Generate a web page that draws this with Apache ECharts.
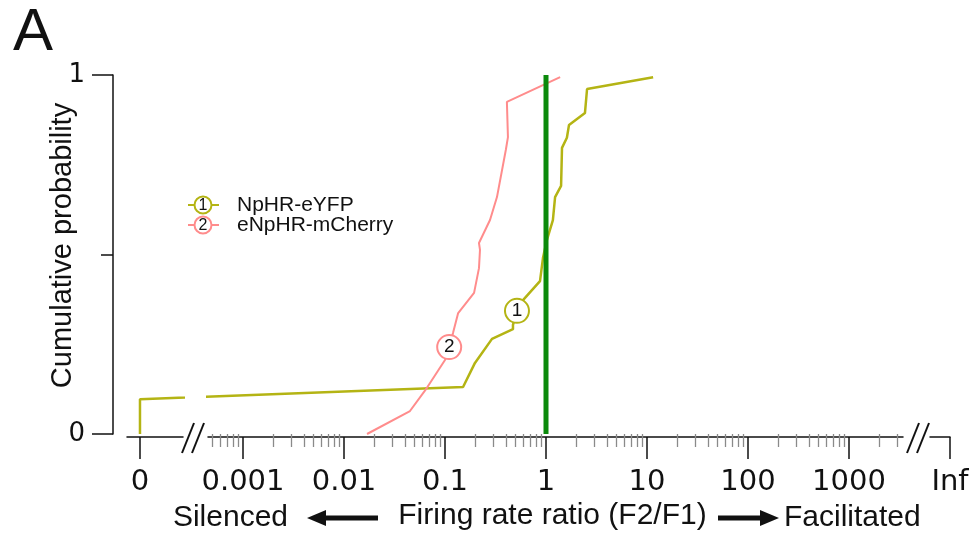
<!DOCTYPE html>
<html><head><meta charset="utf-8">
<script src="https://cdn.jsdelivr.net/npm/echarts@6/dist/echarts.min.js"></script>
<style>html,body{margin:0;padding:0;background:#fff}#chart{width:976px;height:538px}</style>
</head><body><div id="chart"></div>
<script>
// ---------------- data ----------------
const seriesNames = ['NpHR-eYFP', 'eNpHR-mCherry'];
const markerTexts = ['1', '2'];
// NpHR-eYFP: firing-rate ratio (F2/F1) and cumulative probability
const yfpRatio = [0, 0, 0.151, 0.198, 0.292, 0.471, 0.471, 0.516, 0.592, 0.872, 0.933, 1.02, 1.17, 1.23, 1.41, 1.44, 1.61, 1.69, 2.43, 2.55, 11.5];
const yfpProb  = [0, 0.097, 0.131, 0.198, 0.265, 0.292, 0.304, 0.343, 0.373, 0.426, 0.49, 0.54, 0.596, 0.66, 0.691, 0.797, 0.825, 0.861, 0.894, 0.961, 0.994];
const yfpMarkerIndex = 7;
// eNpHR-mCherry
const mchRatio = [0.0169, 0.045, 0.066, 0.1, 0.11, 0.12, 0.135, 0.194, 0.217, 0.222, 0.217, 0.279, 0.327, 0.40, 0.42, 0.41, 1.38];
const mchProb  = [0, 0.064, 0.128, 0.206, 0.242, 0.281, 0.337, 0.393, 0.462, 0.513, 0.532, 0.596, 0.66, 0.791, 0.827, 0.925, 0.994];
const mchMarkerIndex = 4;
// reference line at ratio = 1
const refRatio = 1;
const refProb = [0, 1];
// tick labels
const majorTickRatios = [0.001, 0.01, 0.1, 1, 10, 100, 1000];
const majorTickLabels = ['0.001', '0.01', '0.1', '1', '10', '100', '1000'];
const zeroLabel = '0';
const infLabel = 'Inf';
const yTickValues = [0, 1];
const yTickLabels = ['0', '1'];

// ---------------- layout / style ----------------
const YFP_COLOR = '#b4b414';
const MCH_COLOR = '#ff8c8c';
const REF_COLOR = '#0b8a0b';
const INK = '#111';
const PX1 = 546, PPD = 101;          // pixel of ratio 1, pixels per decade
const ZERO_T = -4.02, INF_T = 4;     // axis positions of the "0" and "Inf" segments
const SEGS = [[127, 183], [208, 903], [930, 950]];
const GRID_TOP = 75, GRID_H = 359;
const tAt = px => (px - PX1) / PPD;
const toT = r => r === 0 ? ZERO_T : (r === Infinity ? INF_T : Math.log10(r));

const majorT = majorTickRatios.map(Math.log10);
const minorT = [];
for (let n = -4; n <= 3; n++) for (let k = 2; k <= 9; k++) {
  const t = Math.log10(k * Math.pow(10, n));
  if (t > tAt(SEGS[1][0]) && t < tAt(SEGS[1][1])) minorT.push(t);
}

const lineStyleAxis = { color: INK, width: 1.5 };
const labelFont = { fontSize: 29, fontFamily: 'DejaVu Sans', color: INK };
const yLabelFont = { fontSize: 26, fontFamily: 'DejaVu Sans', color: INK };
const titleFont = 'Liberation Sans';

function baseX(gridIndex, seg) {
  return {
    gridIndex, type: 'value', position: 'bottom', offset: 3,
    min: tAt(seg[0]), max: tAt(seg[1]),
    axisLine: { show: true, onZero: false, lineStyle: lineStyleAxis },
    splitLine: { show: false }, minorSplitLine: { show: false },
  };
}

const xAxis = [
  Object.assign(baseX(0, SEGS[0]), {
    axisTick: { show: true, customValues: [ZERO_T], length: 22, lineStyle: lineStyleAxis },
    axisLabel: Object.assign({ show: true, customValues: [ZERO_T], margin: 31, formatter: () => zeroLabel }, labelFont)
  }),
  Object.assign(baseX(1, SEGS[1]), {
    axisTick: { show: true, customValues: majorT, length: 22, lineStyle: lineStyleAxis },
    axisLabel: Object.assign({
      show: true, customValues: majorT, margin: 31,
      formatter: v => { const i = majorT.findIndex(t => Math.abs(t - v) < 1e-6); return i >= 0 ? majorTickLabels[i] : ''; }
    }, labelFont),
    name: 'Firing rate ratio (F2/F1)', nameLocation: 'middle', nameGap: 64, nameMoveOverlap: false,
    nameTextStyle: { fontSize: 30, fontFamily: titleFont, color: INK, padding: [0, 6, 0, 0] }
  }),
  Object.assign(baseX(1, SEGS[1]), {
    axisLine: { show: false },
    axisTick: { show: true, customValues: minorT, length: 13, lineStyle: { color: '#8a8a8a', width: 1.3 } },
    axisLabel: { show: false }
  }),
  Object.assign(baseX(2, SEGS[2]), {
    axisTick: { show: true, customValues: [INF_T], length: 22, lineStyle: lineStyleAxis },
    axisLabel: Object.assign({ show: true, customValues: [INF_T], margin: 31, formatter: () => infLabel }, labelFont)
  })
];

const yAxis = [
  {
    gridIndex: 0, type: 'value', min: 0, max: 1, interval: 1, position: 'left', offset: 14,
    axisLine: { show: true, onZero: false, lineStyle: lineStyleAxis },
    axisTick: { show: true, length: 21, lineStyle: lineStyleAxis },
    minorTick: { show: true, splitNumber: 2, length: 12, lineStyle: lineStyleAxis },
    axisLabel: Object.assign({ margin: 28, formatter: v => yTickLabels[yTickValues.indexOf(v)] }, yLabelFont),
    splitLine: { show: false }, minorSplitLine: { show: false },
    name: 'Cumulative probability', nameLocation: 'middle', nameGap: 36, nameMoveOverlap: false,
    nameTextStyle: { fontSize: 29, fontFamily: titleFont, color: INK, padding: [0, 0, 0, 18] }
  },
  { gridIndex: 1, type: 'value', min: 0, max: 1, show: false, splitLine: { show: false } },
  { gridIndex: 2, type: 'value', min: 0, max: 1, show: false, splitLine: { show: false } }
];

function makeData(ratios, probs, markerIdx, markerText, color, withMarker) {
  return ratios.map((r, i) => {
    const item = { value: [toT(r), probs[i]] };
    if (withMarker && i === markerIdx) {
      item.symbol = 'circle';
      item.symbolSize = 24;
      item.itemStyle = { color: '#fff', borderColor: color, borderWidth: 2 };
      item.label = { show: true, position: 'inside', formatter: markerText, fontSize: 19, color: INK, fontFamily: 'Liberation Sans' };
    }
    return item;
  });
}

function lineSeries(name, xi, yi, data, color, width, z) {
  return {
    name, type: 'line', xAxisIndex: xi, yAxisIndex: yi, data,
    symbol: 'none', showSymbol: true, clip: true, z,
    lineStyle: { color, width }, itemStyle: { color },
    emphasis: { disabled: true }, animation: false, silent: true
  };
}

const series = [
  lineSeries(seriesNames[0], 0, 0, makeData(yfpRatio, yfpProb, yfpMarkerIndex, markerTexts[0], YFP_COLOR, false), YFP_COLOR, 2.5, 3),
  lineSeries(seriesNames[0], 1, 1, makeData(yfpRatio, yfpProb, yfpMarkerIndex, markerTexts[0], YFP_COLOR, true), YFP_COLOR, 2.5, 3),
  lineSeries(seriesNames[1], 1, 1, makeData(mchRatio, mchProb, mchMarkerIndex, markerTexts[1], MCH_COLOR, true), MCH_COLOR, 2, 4),
  lineSeries('ratio = 1', 1, 1, refProb.map(p => [toT(refRatio), p]), REF_COLOR, 5, 6)
];

// legend (drawn)
const legendItems = [
  { y: 205, color: YFP_COLOR, num: markerTexts[0], name: seriesNames[0] },
  { y: 225, color: MCH_COLOR, num: markerTexts[1], name: seriesNames[1] }
];
const graphic = [];
legendItems.forEach(it => {
  graphic.push({ type: 'line', shape: { x1: 188, y1: it.y, x2: 219, y2: it.y }, style: { stroke: it.color, lineWidth: 2 } });
  graphic.push({ type: 'circle', shape: { cx: 203, cy: it.y, r: 8.5 }, style: { fill: '#fff', stroke: it.color, lineWidth: 2 } });
  graphic.push({ type: 'text', x: 203, y: it.y + 1, style: { text: it.num, align: 'center', verticalAlign: 'middle', fontSize: 16, fontFamily: 'Liberation Sans', fill: INK } });
  graphic.push({ type: 'text', x: 237, y: it.y, style: { text: it.name, align: 'left', verticalAlign: 'middle', fontSize: 21, fontFamily: 'Liberation Sans', fill: INK } });
});
// axis breaks "//"
[[182, 192], [907, 917]].forEach(b => {
  b.forEach(x0 => graphic.push({ type: 'line', shape: { x1: x0, y1: 453, x2: x0 + 12, y2: 423 }, style: { stroke: INK, lineWidth: 2 } }));
});
// direction labels and arrows
graphic.push({ type: 'text', x: 288, y: 518, style: { text: 'Silenced', align: 'right', verticalAlign: 'middle', fontSize: 30, fontFamily: titleFont, fill: INK } });
graphic.push({ type: 'text', x: 784, y: 518, style: { text: 'Facilitated', align: 'left', verticalAlign: 'middle', fontSize: 30, fontFamily: titleFont, fill: INK } });
graphic.push({ type: 'polygon', shape: { points: [[307, 518], [326, 510], [326, 515.5], [378, 515.5], [378, 520.5], [326, 520.5], [326, 526]] }, style: { fill: INK } });
graphic.push({ type: 'polygon', shape: { points: [[779, 518], [760, 510], [760, 515.5], [718, 515.5], [718, 520.5], [760, 520.5], [760, 526]] }, style: { fill: INK } });

const chart = echarts.init(document.getElementById('chart'), null, { renderer: 'canvas' });
chart.setOption({
  backgroundColor: '#fff',
  animation: false,
  title: { text: 'A', left: 8, top: -2, textStyle: { fontSize: 60, fontWeight: 'normal', fontFamily: 'Liberation Sans', color: INK } },
  grid: SEGS.map(s => ({ left: s[0], width: s[1] - s[0], top: GRID_TOP, height: GRID_H, outerBoundsMode: 'none', containLabel: false })),
  xAxis, yAxis, series, graphic
});
</script></body></html>
